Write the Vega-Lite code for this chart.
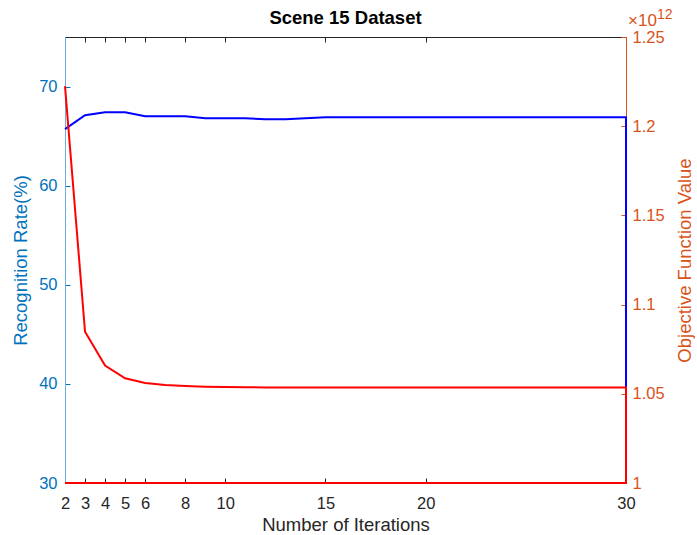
{
  "$schema": "https://vega.github.io/schema/vega-lite/v6.json",
  "width": 561,
  "height": 446,
  "autosize": "none",
  "padding": {"left": 65, "top": 37, "right": 71, "bottom": 52},
  "background": "white",
  "config": {
    "view": {"stroke": null},
    "font": "Liberation Sans",
    "axis": {"grid": false, "labelFont": "Liberation Sans", "titleFont": "Liberation Sans", "titleFontWeight": "normal"}
  },
  "title": {"text": "Scene 15 Dataset", "fontSize": 18.5, "fontWeight": "bold", "color": "#000000", "offset": 1, "dy": 20, "font": "Liberation Sans"},
  "datasets": {
    "rate": [
      {"iter": 2, "rate": 65.7, "i": 1}, {"iter": 3, "rate": 67.1, "i": 2}, {"iter": 4, "rate": 67.4, "i": 3},
      {"iter": 5, "rate": 67.4, "i": 4}, {"iter": 6, "rate": 67.0, "i": 5}, {"iter": 7, "rate": 67.0, "i": 6},
      {"iter": 8, "rate": 67.0, "i": 7}, {"iter": 9, "rate": 66.8, "i": 8}, {"iter": 10, "rate": 66.8, "i": 9},
      {"iter": 11, "rate": 66.8, "i": 10}, {"iter": 12, "rate": 66.7, "i": 11}, {"iter": 13, "rate": 66.7, "i": 12},
      {"iter": 14, "rate": 66.8, "i": 13}, {"iter": 15, "rate": 66.9, "i": 14}, {"iter": 16, "rate": 66.9, "i": 15},
      {"iter": 17, "rate": 66.9, "i": 16}, {"iter": 18, "rate": 66.9, "i": 17}, {"iter": 19, "rate": 66.9, "i": 18},
      {"iter": 20, "rate": 66.9, "i": 19}, {"iter": 21, "rate": 66.9, "i": 20}, {"iter": 22, "rate": 66.9, "i": 21},
      {"iter": 23, "rate": 66.9, "i": 22}, {"iter": 24, "rate": 66.9, "i": 23}, {"iter": 25, "rate": 66.9, "i": 24},
      {"iter": 26, "rate": 66.9, "i": 25}, {"iter": 27, "rate": 66.9, "i": 26}, {"iter": 28, "rate": 66.9, "i": 27},
      {"iter": 29, "rate": 66.9, "i": 28}, {"iter": 30, "rate": 66.9, "i": 29}, {"iter": 30, "rate": 30, "i": 30}
    ],
    "obj": [
      {"iter": 2, "obj": 1222500000000, "i": 1}, {"iter": 3, "obj": 1084800000000, "i": 2}, {"iter": 4, "obj": 1065800000000, "i": 3},
      {"iter": 5, "obj": 1058700000000, "i": 4}, {"iter": 6, "obj": 1056100000000, "i": 5}, {"iter": 7, "obj": 1055000000000, "i": 6},
      {"iter": 8, "obj": 1054400000000, "i": 7}, {"iter": 9, "obj": 1054000000000, "i": 8}, {"iter": 10, "obj": 1053800000000, "i": 9},
      {"iter": 11, "obj": 1053700000000, "i": 10}, {"iter": 12, "obj": 1053600000000, "i": 11}, {"iter": 13, "obj": 1053600000000, "i": 12},
      {"iter": 14, "obj": 1053600000000, "i": 13}, {"iter": 15, "obj": 1053600000000, "i": 14}, {"iter": 16, "obj": 1053600000000, "i": 15},
      {"iter": 17, "obj": 1053600000000, "i": 16}, {"iter": 18, "obj": 1053600000000, "i": 17}, {"iter": 19, "obj": 1053600000000, "i": 18},
      {"iter": 20, "obj": 1053600000000, "i": 19}, {"iter": 21, "obj": 1053600000000, "i": 20}, {"iter": 22, "obj": 1053600000000, "i": 21},
      {"iter": 23, "obj": 1053600000000, "i": 22}, {"iter": 24, "obj": 1053600000000, "i": 23}, {"iter": 25, "obj": 1053600000000, "i": 24},
      {"iter": 26, "obj": 1053600000000, "i": 25}, {"iter": 27, "obj": 1053600000000, "i": 26}, {"iter": 28, "obj": 1053600000000, "i": 27},
      {"iter": 29, "obj": 1053600000000, "i": 28}, {"iter": 30, "obj": 1053600000000, "i": 29}, {"iter": 30, "obj": 1000000000000, "i": 30},
      {"iter": 2, "obj": 1000000000000, "i": 31}
    ],
    "note": [{"iter": 30, "obj": 1250000000000}]
  },
  "resolve": {"scale": {"y": "independent"}, "axis": {"x": "independent"}},
  "layer": [
    {
      "data": {"name": "rate"},
      "mark": {"type": "line", "color": "#0000FF", "strokeWidth": 2, "clip": false},
      "encoding": {
        "x": {"field": "iter", "type": "quantitative", "scale": {"domain": [2, 30], "nice": false, "zero": false},
          "axis": {"orient": "bottom", "values": [2, 3, 4, 5, 6, 8, 10, 15, 20, 30], "title": "Number of Iterations",
            "titleFontSize": 18.5, "titleColor": "#262626", "titlePadding": 4, "labelFontSize": 16.5, "labelColor": "#262626",
            "tickSize": -5, "tickColor": "#262626", "domainColor": "#262626", "labelPadding": 17, "labelFlush": false, "labelOverlap": false}},
        "y": {"field": "rate", "type": "quantitative", "scale": {"domain": [30, 75], "nice": false, "zero": false},
          "axis": {"orient": "left", "values": [30, 40, 50, 60, 70], "title": "Recognition Rate(%)", "titleFontSize": 18.5,
            "titleColor": "#0072BD", "titlePadding": 8, "labelFontSize": 16.5, "labelColor": "#0072BD", "tickColor": "#0072BD",
            "domainColor": "#6aaede", "tickSize": -5, "labelPadding": 13}},
        "order": {"field": "i", "type": "quantitative"}
      }
    },
    {
      "layer": [
        {
          "data": {"name": "obj"},
          "mark": {"type": "line", "color": "#FF0000", "strokeWidth": 2, "clip": false},
          "encoding": {
            "x": {"field": "iter", "type": "quantitative", "scale": {"domain": [2, 30], "nice": false, "zero": false},
              "axis": {"orient": "top", "values": [2, 3, 4, 5, 6, 8, 10, 15, 20, 30], "title": null, "labels": false,
                "tickSize": -5, "tickColor": "#262626", "domainColor": "#262626"}},
            "y": {"field": "obj", "type": "quantitative", "scale": {"domain": [1000000000000, 1250000000000], "nice": false, "zero": false},
              "axis": {"orient": "right", "values": [1000000000000, 1050000000000, 1100000000000, 1150000000000, 1200000000000, 1250000000000],
                "labelExpr": "format(datum.value / 1e12, '.2~f')", "title": "Objective Function Value", "titleAngle": 270,
                "titleFontSize": 18.5, "titleColor": "#D95319", "titlePadding": 30, "labelFontSize": 16.5, "labelColor": "#D95319",
                "tickColor": "#D95319", "domainColor": "#D95319", "tickSize": -5, "labelPadding": 11}},
            "order": {"field": "i", "type": "quantitative"}
          }
        },
        {
          "data": {"name": "note"},
          "mark": {"type": "text", "text": "×10", "align": "left", "baseline": "alphabetic", "dx": 2, "dy": -11, "fontSize": 17, "color": "#D95319", "font": "Liberation Sans"},
          "encoding": {
            "x": {"field": "iter", "type": "quantitative"},
            "y": {"field": "obj", "type": "quantitative"}
          }
        },
        {
          "data": {"name": "note"},
          "mark": {"type": "text", "text": "12", "align": "left", "baseline": "alphabetic", "dx": 31, "dy": -18, "fontSize": 14, "color": "#D95319", "font": "Liberation Sans"},
          "encoding": {
            "x": {"field": "iter", "type": "quantitative"},
            "y": {"field": "obj", "type": "quantitative"}
          }
        }
      ]
    }
  ]
}
